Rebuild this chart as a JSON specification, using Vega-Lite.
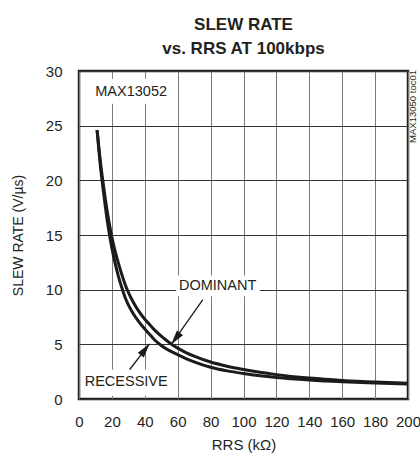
{
  "$schema": "https://vega.github.io/schema/vega-lite/v6.json",
  "width": 329,
  "height": 328,
  "autosize": {"type": "none"},
  "padding": {"left": 79, "top": 71, "right": 12, "bottom": 62},
  "background": "white",
  "title": {
    "text": ["SLEW RATE", "vs. RRS AT 100kbps"],
    "font": "Liberation Sans",
    "fontSize": 17,
    "fontWeight": "bold",
    "color": "#231f20",
    "anchor": "middle",
    "baseline": "alphabetic",
    "lineHeight": 24.5,
    "offset": -7
  },
  "datasets": {
    "curves": [
      {"series": "RECESSIVE", "x": 11, "y": 24.6},
      {"series": "RECESSIVE", "x": 12, "y": 22.9},
      {"series": "RECESSIVE", "x": 13, "y": 21.3},
      {"series": "RECESSIVE", "x": 14, "y": 20.0},
      {"series": "RECESSIVE", "x": 15, "y": 18.8},
      {"series": "RECESSIVE", "x": 16, "y": 17.6},
      {"series": "RECESSIVE", "x": 18, "y": 15.5},
      {"series": "RECESSIVE", "x": 20, "y": 13.8},
      {"series": "RECESSIVE", "x": 22, "y": 12.4},
      {"series": "RECESSIVE", "x": 24, "y": 11.2},
      {"series": "RECESSIVE", "x": 26, "y": 10.2},
      {"series": "RECESSIVE", "x": 28, "y": 9.3},
      {"series": "RECESSIVE", "x": 30, "y": 8.6},
      {"series": "RECESSIVE", "x": 33, "y": 7.8},
      {"series": "RECESSIVE", "x": 36, "y": 7.15},
      {"series": "RECESSIVE", "x": 40, "y": 6.4},
      {"series": "RECESSIVE", "x": 43, "y": 5.9},
      {"series": "RECESSIVE", "x": 46, "y": 5.4},
      {"series": "RECESSIVE", "x": 50, "y": 4.9},
      {"series": "RECESSIVE", "x": 55, "y": 4.42},
      {"series": "RECESSIVE", "x": 60, "y": 4.05},
      {"series": "RECESSIVE", "x": 65, "y": 3.7},
      {"series": "RECESSIVE", "x": 70, "y": 3.4},
      {"series": "RECESSIVE", "x": 80, "y": 2.9},
      {"series": "RECESSIVE", "x": 90, "y": 2.57},
      {"series": "RECESSIVE", "x": 100, "y": 2.33},
      {"series": "RECESSIVE", "x": 110, "y": 2.13},
      {"series": "RECESSIVE", "x": 120, "y": 1.97},
      {"series": "RECESSIVE", "x": 140, "y": 1.74},
      {"series": "RECESSIVE", "x": 160, "y": 1.58},
      {"series": "RECESSIVE", "x": 180, "y": 1.47},
      {"series": "RECESSIVE", "x": 200, "y": 1.38},
      {"series": "DOMINANT", "x": 11, "y": 24.6},
      {"series": "DOMINANT", "x": 12, "y": 23.1},
      {"series": "DOMINANT", "x": 13, "y": 21.7},
      {"series": "DOMINANT", "x": 14, "y": 20.5},
      {"series": "DOMINANT", "x": 15, "y": 19.4},
      {"series": "DOMINANT", "x": 16, "y": 18.3},
      {"series": "DOMINANT", "x": 18, "y": 16.4},
      {"series": "DOMINANT", "x": 20, "y": 14.8},
      {"series": "DOMINANT", "x": 22, "y": 13.5},
      {"series": "DOMINANT", "x": 24, "y": 12.4},
      {"series": "DOMINANT", "x": 26, "y": 11.4},
      {"series": "DOMINANT", "x": 28, "y": 10.5},
      {"series": "DOMINANT", "x": 30, "y": 9.75},
      {"series": "DOMINANT", "x": 33, "y": 8.85},
      {"series": "DOMINANT", "x": 36, "y": 8.1},
      {"series": "DOMINANT", "x": 40, "y": 7.3},
      {"series": "DOMINANT", "x": 43, "y": 6.8},
      {"series": "DOMINANT", "x": 46, "y": 6.3},
      {"series": "DOMINANT", "x": 50, "y": 5.75},
      {"series": "DOMINANT", "x": 55, "y": 5.15},
      {"series": "DOMINANT", "x": 60, "y": 4.65},
      {"series": "DOMINANT", "x": 65, "y": 4.25},
      {"series": "DOMINANT", "x": 70, "y": 3.92},
      {"series": "DOMINANT", "x": 80, "y": 3.38},
      {"series": "DOMINANT", "x": 90, "y": 3.0},
      {"series": "DOMINANT", "x": 100, "y": 2.7},
      {"series": "DOMINANT", "x": 110, "y": 2.44},
      {"series": "DOMINANT", "x": 120, "y": 2.23},
      {"series": "DOMINANT", "x": 140, "y": 1.92},
      {"series": "DOMINANT", "x": 160, "y": 1.7},
      {"series": "DOMINANT", "x": 180, "y": 1.55},
      {"series": "DOMINANT", "x": 200, "y": 1.45}
    ],
    "boxes": [
      {"x": 5, "x2": 58, "y": 27.0, "y2": 29.3},
      {"x": 59, "x2": 110, "y": 9.4, "y2": 11.3},
      {"x": 4, "x2": 54, "y": 0.3, "y2": 2.7}
    ],
    "notes": [
      {"label": "MAX13052", "x": 31.7, "y": 28.1},
      {"label": "DOMINANT", "x": 84.3, "y": 10.3},
      {"label": "RECESSIVE", "x": 28.7, "y": 1.6}
    ],
    "arrows": [
      {"name": "DOMINANT", "x": 75.3, "y": 9.1, "x2": 56.1, "y2": 5.0},
      {"name": "RECESSIVE", "x": 30.8, "y": 2.7, "x2": 42.9, "y2": 5.05}
    ],
    "code": [
      {"label": "MAX13050 toc01", "x": 200, "y": 30}
    ]
  },
  "encoding": {
    "x": {
      "field": "x",
      "type": "quantitative",
      "scale": {"domain": [0, 200], "nice": false, "zero": false},
      "axis": {
        "values": [0, 20, 40, 60, 80, 100, 120, 140, 160, 180, 200],
        "title": "RRS (kΩ)",
        "gridColor": "#7a7a7a",
        "labelFlush": false,
        "labelPadding": 15,
        "titlePadding": 8
      }
    },
    "y": {
      "field": "y",
      "type": "quantitative",
      "scale": {"domain": [0, 30], "nice": false, "zero": false},
      "axis": {
        "values": [0, 5, 10, 15, 20, 25, 30],
        "title": "SLEW RATE (V/µs)",
        "titleFontSize": 14,
        "gridColor": "#333333",
        "labelFlush": false,
        "labelPadding": 17,
        "titlePadding": 20
      }
    }
  },
  "layer": [
    {
      "data": {"name": "boxes"},
      "mark": {"type": "rect", "fill": "white", "stroke": null},
      "encoding": {"x2": {"field": "x2"}, "y2": {"field": "y2"}}
    },
    {
      "data": {"name": "curves"},
      "mark": {"type": "line", "stroke": "#1c1a1b", "strokeWidth": 3, "interpolate": "monotone"},
      "encoding": {"detail": {"field": "series", "type": "nominal"}}
    },
    {
      "data": {"name": "arrows"},
      "mark": {"type": "rule", "stroke": "#1c1a1b", "strokeWidth": 1.3},
      "encoding": {"x2": {"field": "x2"}, "y2": {"field": "y2"}}
    },
    {
      "data": {"name": "arrows"},
      "transform": [{"filter": "datum.name === 'DOMINANT'"}],
      "mark": {"type": "point", "shape": "M0,0L0.7,2.6L-0.7,2.6Z", "size": 121, "filled": true, "fill": "#1c1a1b", "opacity": 1, "strokeWidth": 0, "angle": 217.2},
      "encoding": {"x": {"field": "x2", "type": "quantitative"}, "y": {"field": "y2", "type": "quantitative"}}
    },
    {
      "data": {"name": "arrows"},
      "transform": [{"filter": "datum.name === 'RECESSIVE'"}],
      "mark": {"type": "point", "shape": "M0,0L0.7,2.6L-0.7,2.6Z", "size": 121, "filled": true, "fill": "#1c1a1b", "opacity": 1, "strokeWidth": 0, "angle": 37.9},
      "encoding": {"x": {"field": "x2", "type": "quantitative"}, "y": {"field": "y2", "type": "quantitative"}}
    },
    {
      "data": {"name": "notes"},
      "mark": {"type": "text", "fontSize": 14.5, "align": "center", "baseline": "middle", "color": "#231f20"},
      "encoding": {"text": {"field": "label"}}
    },
    {
      "data": {"name": "code"},
      "mark": {"type": "text", "fontSize": 9.5, "align": "right", "baseline": "middle", "angle": 270, "dy": 5, "dx": 1, "color": "#231f20"},
      "encoding": {"text": {"field": "label"}}
    }
  ],
  "config": {
    "font": "Liberation Sans",
    "view": {"stroke": "#231f20", "strokeWidth": 2.5},
    "axis": {
      "labelFontSize": 15,
      "labelColor": "#231f20",
      "labelOverlap": false,
      "titleFontSize": 15,
      "titleFontWeight": "normal",
      "titleColor": "#231f20",
      "domain": false,
      "ticks": false,
      "grid": true,
      "gridWidth": 1,
      "gridOpacity": 1
    },
    "text": {"font": "Liberation Sans"}
  }
}
